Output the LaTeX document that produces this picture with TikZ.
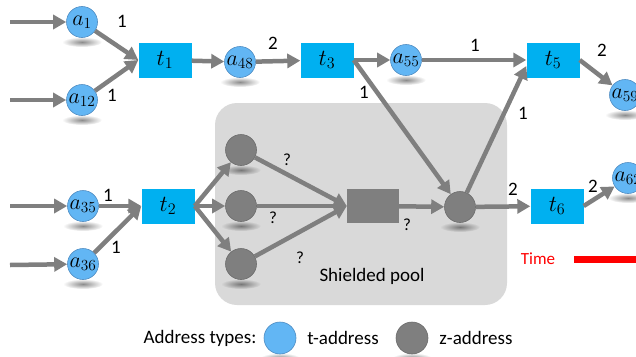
\documentclass[tikz,border=0pt]{standalone}
\usepackage{fix-cm}
\usepackage{fontspec}
\setmainfont{Carlito}
\usetikzlibrary{arrows.meta,fadings}
\definecolor{tcol}{HTML}{62B6F4}
\definecolor{tline}{HTML}{4F8CC2}
\definecolor{boxcol}{HTML}{00B0F0}
\definecolor{zcol}{HTML}{7F7F7F}
\definecolor{poolcol}{HTML}{D9D9D9}
\pgfdeclarelayer{background}
\pgfsetlayers{background,main}
\tikzfading[name=shade, inner color=transparent!55, outer color=transparent!100]
\tikzset{
  taddr/.style={circle, fill=tcol, draw=tline, line width=.6pt, minimum size=31pt, inner sep=0pt, font=\fontsize{22}{26}\selectfont},
  zaddr/.style={circle, fill=zcol, draw=zcol!85!black, line width=.6pt, minimum size=31pt, inner sep=0pt},
  tx/.style={rectangle, fill=boxcol, minimum width=53pt, minimum height=35pt, inner sep=0pt, font=\fontsize{23}{27}\selectfont},
  mixbox/.style={rectangle, fill=zcol, minimum width=52pt, minimum height=34pt, inner sep=0pt},
  flow/.style={draw=zcol, line width=4.5pt, ->},
  qlbl/.style={font=\fontsize{17}{20}\selectfont, inner sep=0pt},
}
\begin{document}
\begin{tikzpicture}[x=1pt, y=-1pt, >={Triangle[length=13pt,width=14pt]}, font=\fontsize{19}{22}\selectfont, line join=round]
            \useasboundingbox (0,0) rectangle (636,356);
            \clip (0,0) rectangle (636,356);
            % transactions and addresses
            \node[taddr] (a1) at (82,22) {$a_{1}$};
            \node[taddr] (a12) at (82,100) {$a_{12}$};
            \node[tx] (t1) at (165,60) {$t_{1}$};
            \node[taddr] (a48) at (240,62) {$a_{48}$};
            \node[tx] (t3) at (327,60) {$t_{3}$};
            \node[taddr] (a55) at (406,60) {$a_{55}$};
            \node[tx] (t5) at (553,60) {$t_{5}$};
            \node[taddr] (a59) at (625,95) {$a_{59}$};
            \node[taddr] (a35) at (83,206) {$a_{35}$};
            \node[taddr] (a36) at (83,264) {$a_{36}$};
            \node[tx] (t2) at (168,206) {$t_{2}$};
            \node[zaddr] (z1) at (241,150) {};
            \node[zaddr] (z2) at (241,206) {};
            \node[zaddr] (z3) at (241,264) {};
            \node[mixbox] (mix) at (373,206) {};
            \node[zaddr] (zc) at (460,207) {};
            \node[tx] (t6) at (557,206) {$t_{6}$};
            \node[taddr] (a62) at (628,178) {$a_{62}$};
            \node (pool) at (372,276) {Shielded pool};
            % legend
            \node (legtxt) at (200,338) {Address types:};
            \node[taddr, minimum size=32pt] (tleg) at (280,338) {};
            \node (tlegtxt) at (343,338) {t-address};
            \node[zaddr, minimum size=32pt] (zleg) at (412,338) {};
            \node (zlegtxt) at (476,338) {z-address};
            \begin{pgfonlayer}{background}
            \fill[poolcol, rounded corners=22pt] (215,103) rectangle (507,305);
            \foreach \n in {a1,a12,a48,a55,a59,a35,a36,a62,z1,z2,z3,zc,tleg,zleg}
            \fill[black, path fading=shade] ([yshift=-20pt]\n.center) ellipse (20pt and 5pt);
            \end{pgfonlayer}
            \coordinate (s1) at (10,22);
            \coordinate (s12) at (10,100);
            \coordinate (s35) at (10,206);
            \coordinate (s36) at (10,265);
            \draw[flow] (s1)--(a1);
            \draw[flow] (s12)--(a12);
            \draw[flow] (s35)--(a35);
            \draw[flow] (s36)--(a36);
            \draw[flow] (a1)--(t1.west);
            \draw[flow] (a12)--(t1.west);
            \draw[flow] (t1)--(a48);
            \draw[flow] (a48)--(t3);
            \draw[flow] (t3)--(a55);
            \draw[flow] (a55)--(t5);
            \draw[flow] (t5.east)--(a59);
            \draw[flow] (t3.east)--(zc);
            \draw[flow] (zc)--([yshift=-6pt]t5.west);
            \draw[flow] (zc)--(t6);
            \draw[flow] (t6.east)--(a62);
            \draw[flow] (a35)--(t2.west);
            \draw[flow] (a36)--(t2.west);
            \foreach \z in {z1,z2,z3}
            \draw[flow] (t2.east)--(\z);
            \foreach \z in {z1,z2,z3}
            \draw[flow] (\z)--(mix.west);
            \draw[flow] (mix)--(zc);
            % amounts
            \node (l1) at (122,21) {1};
            \node (l2) at (112,95) {1};
            \node (l3) at (273,43) {2};
            \node (l4) at (475,45) {1};
            \node (l5) at (602,50) {2};
            \node (l6) at (364,92) {1};
            \node (l7) at (523,113) {1};
            \node (l8) at (513,189) {2};
            \node (l9) at (593,186) {2};
            \node (l10) at (108,195) {1};
            \node (l11) at (116,247) {1};
            \node[qlbl] (q1) at (287,160) {?};
            \node[qlbl] (q2) at (273,218) {?};
            \node[qlbl] (q3) at (300,258) {?};
            \node[qlbl] (q4) at (407,225) {?};
            % time axis
            \node[text=red, font=\fontsize{17}{20}\selectfont] (time) at (538,259) {Time};
            \coordinate (tstart) at (574,259);
            \coordinate (tend) at (660,259);
            \draw[red, line width=7pt] (tstart)--(tend);
    \end{tikzpicture}
\end{document}
